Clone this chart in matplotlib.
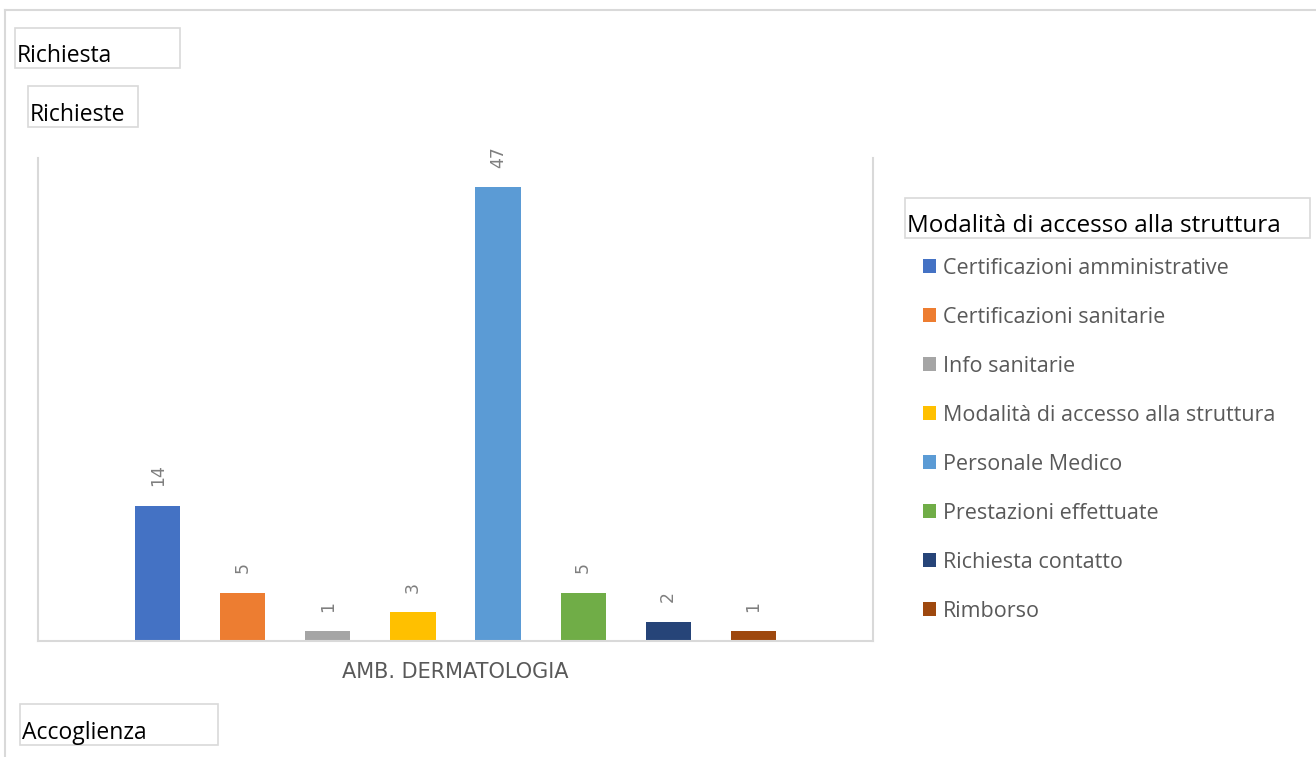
import matplotlib.pyplot as plt
from matplotlib.lines import Line2D

categories = ['Certificazioni amministrative', 'Certificazioni sanitarie', 'Info sanitarie',
              'Modalità di accesso alla struttura', 'Personale Medico', 'Prestazioni effettuate',
              'Richiesta contatto', 'Rimborso']
values = [14, 5, 1, 3, 47, 5, 2, 1]
colors = ['#4472C4', '#ED7D31', '#A5A5A5', '#FFC000', '#5B9BD5', '#70AD47', '#264478', '#9E480E']
group_label = 'AMB. DERMATOLOGIA'

W, H = 1316, 757
fig = plt.figure(figsize=(W / 100, H / 100), dpi=100)
ax = fig.add_axes([38 / W, (H - 641) / H, 835 / W, 483 / H])

xs = list(range(len(values)))
for x, v, c, name in zip(xs, values, colors, categories):
    ax.bar(x, v, width=0.53, color=c, label=name, zorder=2)
    ax.annotate(str(v), (x, v), xytext=(0, 14), textcoords='offset points',
                rotation=90, ha='center', va='bottom', fontsize=12.5, color='#7f7f7f')

ax.set_xlim(-1.41, 8.41)
ax.set_ylim(0, 50)
ax.set_xticks([])
ax.set_yticks([])
for s in ['left', 'right', 'bottom']:
    ax.spines[s].set_color('#d9d9d9')
    ax.spines[s].set_linewidth(1.5)
ax.spines['top'].set_visible(False)

fig.text(455 / W, 1 - 672 / H, group_label, ha='center', va='center',
         fontsize=15, color='#595959', family='DejaVu Sans')

# outer frame
fig.add_artist(Line2D([5 / W, 1], [1 - 10 / H, 1 - 10 / H], color='#d9d9d9', lw=1.5))
fig.add_artist(Line2D([5 / W, 5 / W], [0, 1 - 10 / H], color='#d9d9d9', lw=1.5))


def boxed(x0, y0, x1, y1, txt, size=16.5):
    fig.add_artist(plt.Rectangle((x0 / W, 1 - y1 / H), (x1 - x0) / W, (y1 - y0) / H,
                                 fill=False, ec='#d9d9d9', lw=1.2, transform=fig.transFigure))
    fig.text((x0 + 2) / W, 1 - (y1 - 6) / H, txt, ha='left', va='baseline',
             fontsize=size, color='black', family='Open Sans')


boxed(15, 28, 180, 68, 'Richiesta')
boxed(28, 86, 138, 127, 'Richieste')
boxed(20, 704, 218, 745, 'Accoglienza')
boxed(905, 198, 1310, 238, 'Modalità di accesso alla struttura', size=17.5)

leg = fig.legend(loc='upper left', bbox_to_anchor=(912 / W, 1 - 247 / H), frameon=False,
                 prop={'family': 'Open Sans', 'size': 15.5}, handlelength=0.6, handleheight=0.6,
                 handletextpad=0.35, labelspacing=1.30, borderpad=0)
for t in leg.get_texts():
    t.set_color('#595959')

fig.savefig('out.png', dpi=100)
